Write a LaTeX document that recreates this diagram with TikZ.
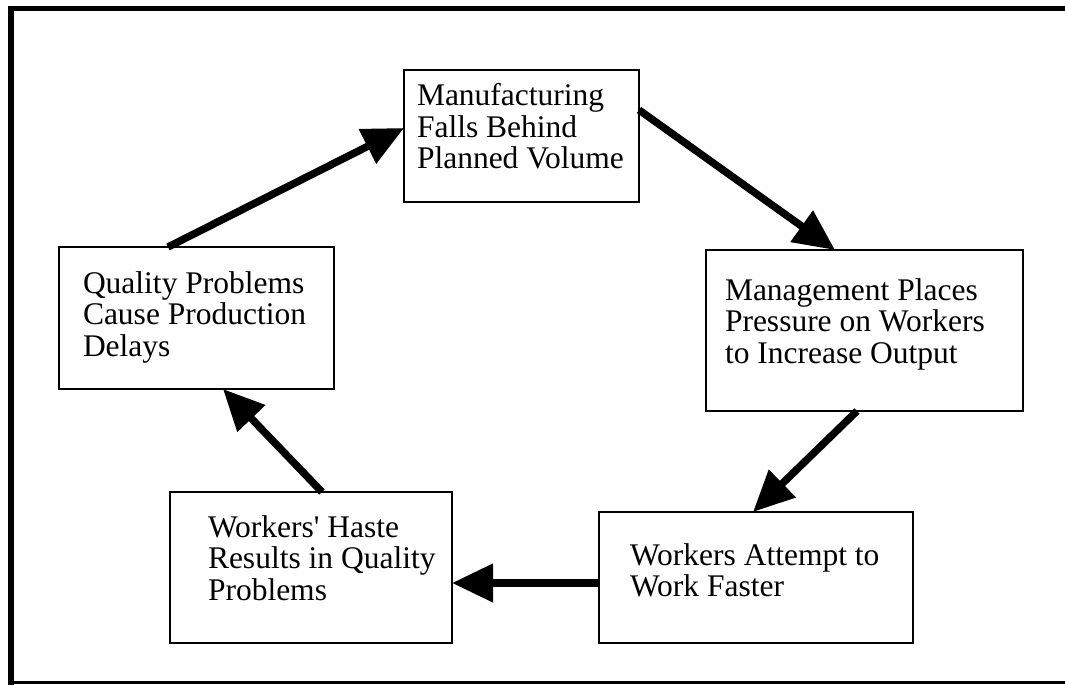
\documentclass[tikz,border=0pt]{standalone}
\usepackage{fontspec}
\setmainfont{Liberation Serif}
\usetikzlibrary{arrows.meta,calc}
\begin{document}
\begin{tikzpicture}[x=1pt,y=-1pt,
  box/.style={draw=black, line width=2.5pt, inner sep=0pt, outer sep=0pt, anchor=north west, fill=white},
  txt/.style={anchor=north west, inner sep=0pt, outer sep=0pt, align=left, font=\fontsize{31.5}{31.5}\selectfont},
  flow/.style={draw=black, line width=7.5pt, -{Triangle[length=41pt,width=37pt]}},
  frameline/.style={draw=black, line cap=butt}]
\useasboundingbox (0,0) rectangle (1065,685);
% frame
\draw[frameline, line width=5pt] (8,8.5) -- (1065,8.5);
\draw[frameline, line width=6pt] (11,6) -- (11,685);
\draw[frameline, line width=2.5pt] (8,682.5) -- (1065,682.5);
% boxes
\node[box, minimum width=235pt, minimum height=132pt] (mfg) at (404,70) {};
\node[box, minimum width=317pt, minimum height=161pt] (mgmt) at (706,250) {};
\node[box, minimum width=314pt, minimum height=131pt] (att) at (599,512) {};
\node[box, minimum width=282pt, minimum height=151pt] (haste) at (170,492) {};
\node[box, minimum width=275pt, minimum height=142pt] (qual) at (59,247) {};
% texts
\node[txt] (mfgt) at (417,83.5) {Manufacturing\\Falls Behind\\Planned Volume};
\node[txt] (mgmtt) at (725,278.5) {Management Places\\Pressure on Workers\\to Increase Output};
\node[txt] (attt) at (630,543.5) {Workers Attempt to\\Work Faster};
\node[txt] (hastet) at (208,515.5) {Workers\textquotesingle{} Haste\\Results in Quality\\Problems};
\node[txt] (qualt) at (83,271.5) {Quality Problems\\Cause Production\\Delays};
% connectors
\draw[flow] ($(qual.north west)+(109,0)$) -- ($(mfg.north west)+(0,58)$);
\draw[flow] ($(mfg.north east)+(0,40)$) -- ($(mgmt.north west)+(129,0)$);
\draw[flow] ($(mgmt.south west)+(151,0)$) -- ($(att.north west)+(154,0)$);
\draw[flow] ($(att.north west)+(0,71)$) -- ($(haste.north east)+(0,91)$);
\draw[flow] ($(haste.north west)+(152,0)$) -- ($(qual.south west)+(164,0)$);
\end{tikzpicture}
\end{document}
